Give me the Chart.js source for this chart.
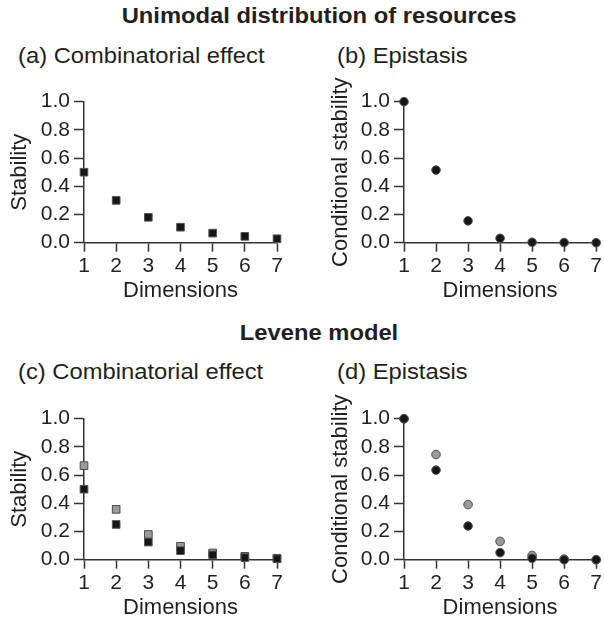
<!DOCTYPE html>
<html>
<head>
<meta charset="utf-8">
<script src="https://cdn.jsdelivr.net/npm/chart.js@4"></script>
<style>
  body { margin: 0; width: 604px; height: 624px; overflow: hidden; background: #fff; position: relative;
         font-family: "Liberation Sans", Arial, sans-serif; color: #231f20; }
  .head { position: absolute; left: 0; width: 638px; text-align: center; font-weight: bold;
          font-size: 22px; line-height: 22px; transform: scaleX(1.08); transform-origin: 319px 0; white-space: nowrap; }
  .sub { position: absolute; font-size: 22px; line-height: 22px; transform: scaleX(1.08); transform-origin: 0 0; white-space: nowrap; }
  canvas { position: absolute; }
</style>
</head>
<body>
<div class="head" style="top:4.7px">Unimodal distribution of resources</div>
<div class="sub" style="left:18.3px;top:44.7px">(a) Combinatorial effect</div>
<div class="sub" style="left:336.7px;top:44.7px">(b) Epistasis</div>
<div class="head" style="top:322px">Levene model</div>
<div class="sub" style="left:18.3px;top:361.4px">(c) Combinatorial effect</div>
<div class="sub" style="left:336.7px;top:361.4px">(d) Epistasis</div>

<canvas id="chartA" width="300" height="240" style="left:0;top:70px"></canvas>
<canvas id="chartB" width="304" height="240" style="left:300px;top:70px"></canvas>
<canvas id="chartC" width="300" height="240" style="left:0;top:387px"></canvas>
<canvas id="chartD" width="304" height="240" style="left:300px;top:387px"></canvas>

<script>
// data
var dims = [1, 2, 3, 4, 5, 6, 7];
var yTickVals = [0, 0.2, 0.4, 0.6, 0.8, 1.0];

var unimodalStability   = [0.5, 0.3, 0.18, 0.11, 0.068, 0.045, 0.028];
var unimodalConditional = [1.0, 0.515, 0.155, 0.031, 0.003, 0.001, 0.0];

var leveneStabilityBlack   = [0.5, 0.25, 0.125, 0.064, 0.034, 0.015, 0.007];
var leveneStabilityGray    = [0.667, 0.357, 0.179, 0.095, 0.048, 0.024, 0.01];
var leveneConditionalBlack = [1.0, 0.635, 0.239, 0.05, 0.01, 0.0, 0.0];
var leveneConditionalGray  = [1.0, 0.746, 0.391, 0.13, 0.03, 0.004, 0.0];

var ink = '#231f20';
var axisCol = '#333333';
var fontFam = '"Liberation Sans", Arial, sans-serif';

function pts(vals) {
  return dims.map(function(d, i) { return {x: d, y: vals[i]}; });
}

function series(vals, fill, edge, shape) {
  return {
    data: pts(vals),
    pointStyle: shape,
    pointRadius: shape === 'rect' ? 5.4 : 4.3,
    backgroundColor: fill,
    borderColor: edge,
    pointBorderWidth: 1,
    showLine: false,
    clip: false
  };
}

function makePanel(id, datasets, yTitle, axisWidth, titlePad) {
  var ctx = document.getElementById(id).getContext('2d');
  return new Chart(ctx, {
    type: 'scatter',
    data: {datasets: datasets},
    options: {
      responsive: false,
      animation: false,
      layout: {padding: {top: 31.7, right: id === 'chartA' || id === 'chartC' ? 23 : 7.3, bottom: 6, left: 0}},
      plugins: {legend: {display: false}, tooltip: {enabled: false}},
      scales: {
        x: {
          type: 'linear', min: 1, max: 7,
          afterBuildTicks: function(s) { s.ticks = dims.map(function(v) { return {value: v}; }); },
          afterFit: function(s) { s.height = 61.3; },
          ticks: {color: ink, font: {family: fontFam, size: 21}, padding: 2},
          grid: {drawOnChartArea: false, drawTicks: true, tickLength: 9, tickColor: axisCol, tickWidth: 1.5},
          border: {display: true, color: axisCol, width: 1.5},
          title: {display: true, text: 'Dimensions', color: ink, font: {family: fontFam, size: 22}, padding: {top: 0, bottom: 0}}
        },
        y: {
          type: 'linear', min: 0, max: 1,
          afterBuildTicks: function(s) { s.ticks = yTickVals.map(function(v) { return {value: v}; }); },
          afterFit: function(s) { s.width = axisWidth; },
          ticks: {color: ink, font: {family: fontFam, size: 21}, padding: 4,
                  callback: function(v) { return v.toFixed(1); }},
          grid: {drawOnChartArea: false, drawTicks: true, tickLength: 10, tickColor: axisCol, tickWidth: 1.5},
          border: {display: true, color: axisCol, width: 1.5},
          title: {display: true, text: yTitle, color: ink, font: {family: fontFam, size: 22}, padding: {top: titlePad, bottom: 0}}
        }
      }
    }
  });
}

var black = '#161616', blackEdge = '#555555';
var grey = '#9a9a9a', greyEdge = '#4a4a4a';

makePanel('chartA', [series(unimodalStability, black, blackEdge, 'rect')], 'Stability', 84, 7);
makePanel('chartB', [series(unimodalConditional, black, blackEdge, 'circle')], 'Conditional stability', 104, 28);
makePanel('chartC', [
  series(leveneStabilityBlack, black, blackEdge, 'rect'),
  series(leveneStabilityGray, grey, greyEdge, 'rect')
], 'Stability', 84, 7);
makePanel('chartD', [
  series(leveneConditionalBlack, black, blackEdge, 'circle'),
  series(leveneConditionalGray, grey, greyEdge, 'circle')
], 'Conditional stability', 104, 28);
</script>
</body>
</html>
